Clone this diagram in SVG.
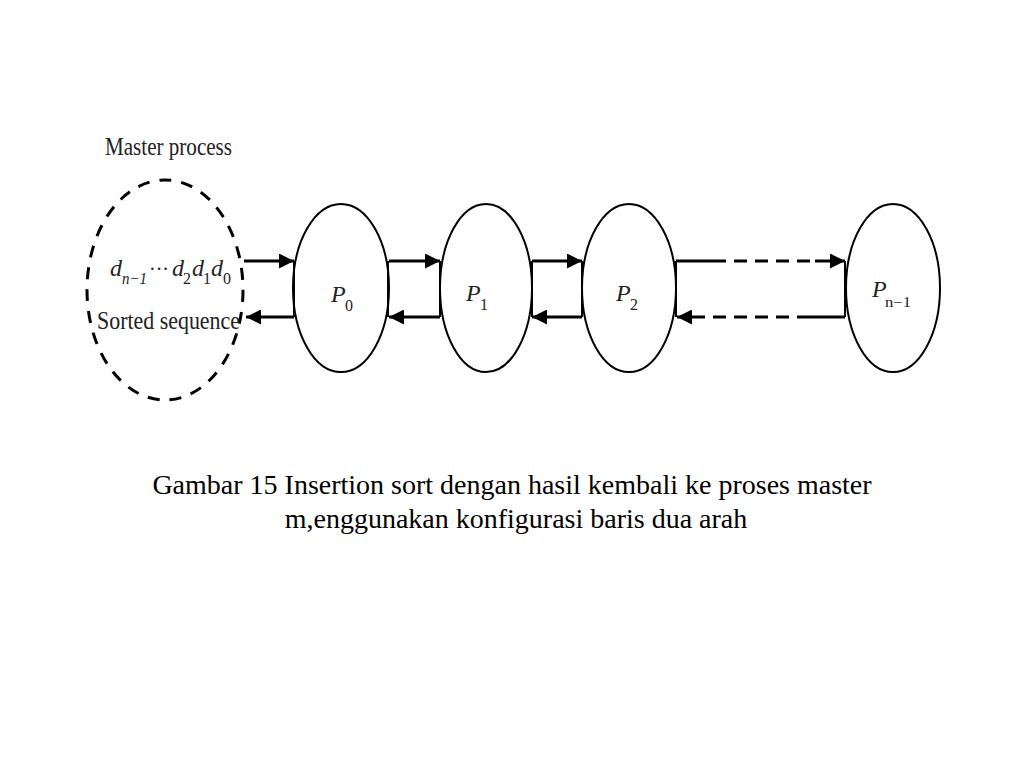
<svg xmlns="http://www.w3.org/2000/svg" width="1024" height="768" viewBox="0 0 1024 768">
<style>
.node{fill:none;stroke:#000;stroke-width:2}
.side{stroke:#000;stroke-width:2}
.arr{stroke:#000;stroke-width:3;fill:none}
.dash{stroke-dasharray:13 8}
.t{font-family:"Liberation Serif",serif;fill:#222}
.it{font-style:italic}
.cap{font-family:"Liberation Serif","Times New Roman",serif;font-size:28px;fill:#000}
</style>
<defs>
<marker id="ah" viewBox="0 0 10 10" refX="10" refY="5" markerWidth="5" markerHeight="5" orient="auto" markerUnits="strokeWidth">
<path d="M0,0 L10,5 L0,10 z" fill="#000"/>
</marker>
</defs>
<rect width="1024" height="768" fill="#fff"/>
<g id="master">
<ellipse cx="165" cy="290" rx="78" ry="110" fill="none" stroke="#000" stroke-width="3" stroke-dasharray="12 10"/>
<text class="t" x="105" y="155" font-size="26" textLength="127" lengthAdjust="spacingAndGlyphs">Master process</text>
<text class="t it" x="110" y="276" font-size="24">d</text>
<text class="t it" x="122" y="284" font-size="16" textLength="25" lengthAdjust="spacingAndGlyphs">n−1</text>
<text class="t" x="149" y="276" font-size="20" textLength="20" lengthAdjust="spacingAndGlyphs">···</text>
<text class="t it" x="172" y="276" font-size="24">d</text>
<text class="t" x="183" y="284" font-size="16">2</text>
<text class="t it" x="192" y="276" font-size="24">d</text>
<text class="t" x="203" y="284" font-size="16">1</text>
<text class="t it" x="211" y="276" font-size="24">d</text>
<text class="t" x="223" y="284" font-size="16">0</text>
<text class="t" x="97" y="329" font-size="26" textLength="143" lengthAdjust="spacingAndGlyphs">Sorted sequence</text>
</g>
<g id="p0">
<ellipse class="node" cx="341" cy="288" rx="48" ry="84"/>
<line class="side" x1="294" y1="261" x2="294" y2="317"/>
<line class="side" x1="388" y1="261" x2="388" y2="317"/>
<text class="t it" x="331" y="302" font-size="24">P</text>
<text class="t" x="345" y="311" font-size="16">0</text>
</g>
<g id="p1">
<ellipse class="node" cx="486" cy="288" rx="46" ry="84"/>
<line class="side" x1="440" y1="261" x2="440" y2="317"/>
<line class="side" x1="532" y1="261" x2="532" y2="317"/>
<text class="t it" x="466" y="301" font-size="24">P</text>
<text class="t" x="480" y="310" font-size="16">1</text>
</g>
<g id="p2">
<ellipse class="node" cx="629" cy="288" rx="47" ry="84"/>
<line class="side" x1="582" y1="261" x2="582" y2="317"/>
<line class="side" x1="676" y1="261" x2="676" y2="317"/>
<text class="t it" x="616" y="301" font-size="24">P</text>
<text class="t" x="630" y="310" font-size="16">2</text>
</g>
<g id="pn1">
<ellipse class="node" cx="893" cy="288" rx="47" ry="84"/>
<line class="side" x1="845" y1="261" x2="845" y2="317"/>
<text class="t it" x="872" y="297" font-size="24">P</text>
<text class="t" x="885" y="307" font-size="14" textLength="26" lengthAdjust="spacingAndGlyphs">n−1</text>
</g>
<g id="connectors">
<line class="arr" x1="244" y1="261" x2="294" y2="261" marker-end="url(#ah)"/>
<line class="arr" x1="294" y1="317" x2="246" y2="317" marker-end="url(#ah)"/>
<line class="arr" x1="389" y1="261" x2="440" y2="261" marker-end="url(#ah)"/>
<line class="arr" x1="440" y1="317" x2="389" y2="317" marker-end="url(#ah)"/>
<line class="arr" x1="532" y1="261" x2="582" y2="261" marker-end="url(#ah)"/>
<line class="arr" x1="582" y1="317" x2="532" y2="317" marker-end="url(#ah)"/>
<line class="arr" x1="676" y1="261" x2="713" y2="261"/>
<line class="arr dash" x1="713" y1="261" x2="815" y2="261"/>
<line class="arr" x1="815" y1="261" x2="845" y2="261" marker-end="url(#ah)"/>
<line class="arr" x1="845" y1="317" x2="810" y2="317"/>
<line class="arr dash" x1="810" y1="317" x2="692" y2="317"/>
<line class="arr" x1="692" y1="317" x2="677" y2="317" marker-end="url(#ah)"/>
</g>
<text class="cap" x="512" y="494" text-anchor="middle">Gambar 15 Insertion sort dengan hasil kembali ke proses master</text>
<text class="cap" x="516" y="528" text-anchor="middle">m,enggunakan konfigurasi baris dua arah</text>
</svg>
